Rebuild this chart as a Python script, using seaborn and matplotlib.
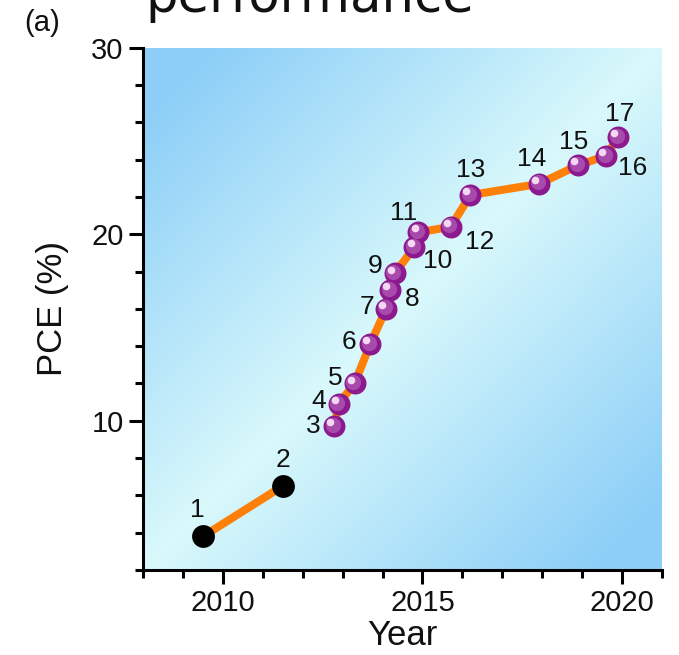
import numpy as np
import pandas as pd
import matplotlib
matplotlib.use("Agg")
import matplotlib.pyplot as plt
import matplotlib.transforms as mtransforms
from matplotlib.ticker import MultipleLocator
import seaborn as sns

# ---------------- data ----------------
early_ids = [1, 2]
early_year = [2009.5, 2011.5]
early_pce = [3.8, 6.5]

later_ids = [3, 4, 5, 6, 7, 8, 9, 10, 11, 12, 13, 14, 15, 16, 17]
later_year = [2012.79, 2012.9, 2013.3, 2013.69, 2014.09, 2014.19, 2014.3,
              2014.8, 2014.9, 2015.71, 2016.2, 2017.92, 2018.9, 2019.6, 2019.9]
later_pce = [9.7, 10.9, 12.0, 14.1, 16.0, 17.0, 17.9,
             19.3, 20.1, 20.4, 22.1, 22.7, 23.7, 24.2, 25.2]

x_ticks = [2010, 2015, 2020]
y_ticks = [10, 20, 30]
x_label = "Year"
y_label = "PCE (%)"
panel_label = "(a)"
title_text = "performance"

# label offsets (points) relative to each marker
label_offsets = {
    1: (-4, 19), 2: (0, 19), 3: (-15, 0), 4: (-14, 2), 5: (-14, 4),
    6: (-15, 2), 7: (-14, 1), 8: (16, -6), 9: (-14, 5), 10: (17, -10),
    11: (-11, 14), 12: (21, -11), 13: (0, 18), 14: (-5, 18), 15: (-3, 17),
    16: (19, -9), 17: (1, 17),
}

df_early = pd.DataFrame({"id": early_ids, "year": early_year, "pce": early_pce})
df_later = pd.DataFrame({"id": later_ids, "year": later_year, "pce": later_pce})

# ---------------- style ----------------
sns.set_theme(style="ticks")
plt.rcParams["font.family"] = ["Liberation Sans", "DejaVu Sans"]

orange = "#ff8008"
purple = "#8c1a8e"

fig = plt.figure(figsize=(6.79, 6.55), dpi=100)
ax = fig.add_axes([143 / 679, 85 / 655, (662 - 143) / 679, (570 - 47.7) / 655])

x0, x1, y0, y1 = 2008, 2021, 2, 30

# gradient background
n = 300
u = np.linspace(0, 1, n)
U, V = np.meshgrid(u, u)
t = np.clip(np.abs(U - V) * 1.15, 0, 1)
c_light = np.array([0.85, 0.975, 0.985])
c_blue = np.array([0.55, 0.81, 0.97])
img = c_light[None, None, :] * (1 - t[..., None]) + c_blue[None, None, :] * t[..., None]
ax.imshow(img, extent=[x0, x1, y0, y1], origin="lower", aspect="auto",
          interpolation="bilinear", zorder=0)

# lines
sns.lineplot(data=df_early, x="year", y="pce", color=orange, lw=5.8,
             estimator=None, ax=ax, zorder=2)
sns.lineplot(data=df_later, x="year", y="pce", color=orange, lw=5.8,
             estimator=None, ax=ax, zorder=2)

# markers
sns.scatterplot(data=df_early, x="year", y="pce", color="black", s=270,
                linewidth=0, ax=ax, zorder=3)
sns.scatterplot(data=df_later, x="year", y="pce", color=purple, s=250,
                linewidth=0, ax=ax, zorder=3)
# sphere shading
off1 = mtransforms.offset_copy(ax.transData, fig=fig, x=-1.0, y=1.0, units="points")
off2 = mtransforms.offset_copy(ax.transData, fig=fig, x=-2.8, y=2.8, units="points")
ax.scatter(df_later["year"], df_later["pce"], s=120, color="#a84aab",
           linewidth=0, transform=off1, zorder=4)
ax.scatter(df_later["year"], df_later["pce"], s=30, color="#f3d7f3",
           linewidth=0, transform=off2, zorder=5)

# number labels
for df in (df_early, df_later):
    for _, r in df.iterrows():
        dx, dy = label_offsets[int(r["id"])]
        ax.annotate(str(int(r["id"])), (r["year"], r["pce"]), xytext=(dx, dy),
                    textcoords="offset points", ha="center", va="center",
                    fontsize=19, color="#111111", zorder=6)

ax.set_xlim(x0, x1)
ax.set_ylim(y0, y1)
ax.set_xticks(x_ticks)
ax.set_yticks(y_ticks)
ax.xaxis.set_minor_locator(MultipleLocator(1))
ax.yaxis.set_minor_locator(MultipleLocator(2))
ax.tick_params(axis="both", which="major", length=10, width=2.2, direction="out",
               labelsize=21, color="black", labelcolor="#111111", pad=4)
ax.tick_params(axis="both", which="minor", length=5.5, width=2.2, direction="out",
               color="black")
for side in ("top", "right"):
    ax.spines[side].set_visible(False)
for side in ("left", "bottom"):
    ax.spines[side].set_linewidth(2.2)
    ax.spines[side].set_color("black")
    ax.spines[side].set_capstyle("projecting")

ax.set_xlabel(x_label, fontsize=25, labelpad=1, color="#111111")
ax.set_ylabel(y_label, fontsize=25, labelpad=16, color="#111111")

fig.text(42 / 679, 1 - 23 / 655, panel_label, ha="center", va="center",
         fontsize=21, color="#111111")
fig.text(310 / 679, 1 - 12 / 655, title_text, ha="center", va="baseline",
         fontsize=37, color="#111111", family=["DejaVu Sans"])

fig.savefig("out.png", dpi=100)
